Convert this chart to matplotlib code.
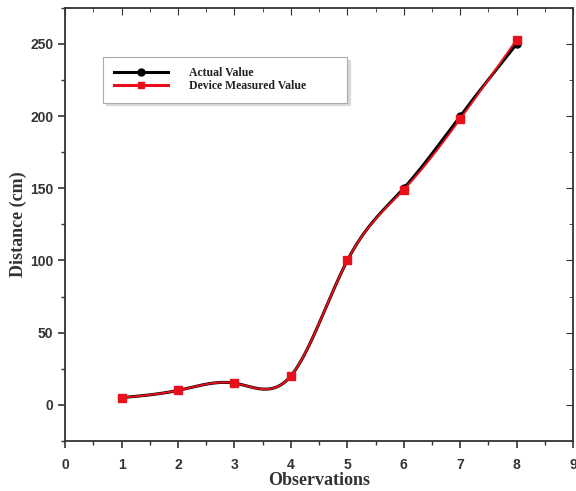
import numpy as np
import matplotlib
matplotlib.use("Agg")
import matplotlib.pyplot as plt
from matplotlib.ticker import MultipleLocator

observations = [1, 2, 3, 4, 5, 6, 7, 8]
actual_value = [5, 10, 15, 20, 100, 150, 200, 250]
measured_value = [5, 10, 15, 20, 100, 149, 198, 253]


def natural_spline(x, y, n=400):
    x = np.asarray(x, float)
    y = np.asarray(y, float)
    k = len(x)
    h = np.diff(x)
    A = np.zeros((k, k))
    b = np.zeros(k)
    A[0, 0] = 1
    A[-1, -1] = 1
    for i in range(1, k - 1):
        A[i, i - 1] = h[i - 1]
        A[i, i] = 2 * (h[i - 1] + h[i])
        A[i, i + 1] = h[i]
        b[i] = 3 * ((y[i + 1] - y[i]) / h[i] - (y[i] - y[i - 1]) / h[i - 1])
    c = np.linalg.solve(A, b)
    xs = np.linspace(x[0], x[-1], n)
    ys = np.empty_like(xs)
    for j, xv in enumerate(xs):
        i = min(np.searchsorted(x, xv, side="right") - 1, k - 2)
        dx = xv - x[i]
        bb = (y[i + 1] - y[i]) / h[i] - h[i] * (2 * c[i] + c[i + 1]) / 3
        d = (c[i + 1] - c[i]) / (3 * h[i])
        ys[j] = y[i] + bb * dx + c[i] * dx ** 2 + d * dx ** 3
    return xs, ys


fig = plt.figure(figsize=(5.76, 4.91), dpi=100)
ax = fig.add_axes([0.113, 0.102, 0.882, 0.882])

xa, ya = natural_spline(observations, actual_value)
xm, ym = natural_spline(observations, measured_value)

ax.plot(xa, ya, color="black", lw=2.2, zorder=2)
ax.plot(observations, actual_value, "o", color="black", ms=5, zorder=2)
ax.plot(xm, ym, color="#e8101a", lw=1.4, zorder=3)
ax.plot(observations, measured_value, "s", color="#e8101a", ms=6, zorder=4)

# legend proxies
ax.plot([], [], color="black", lw=2.2, marker="o", ms=5, label="Actual Value")
ax.plot([], [], color="#e8101a", lw=2.2, marker="s", ms=5, label="Device Measured Value")

ax.set_xlim(0, 9)
ax.set_ylim(-25, 275)
ax.xaxis.set_major_locator(MultipleLocator(1))
ax.xaxis.set_minor_locator(MultipleLocator(0.5))
ax.yaxis.set_major_locator(MultipleLocator(50))
ax.yaxis.set_minor_locator(MultipleLocator(25))

for s in ax.spines.values():
    s.set_linewidth(1.3)
    s.set_color("#333333")

ax.tick_params(which="both", direction="out", top=False, right=False, colors="#333333")
ax.tick_params(which="major", length=5, width=1.2)
ax.tick_params(which="minor", length=3, width=1.0)
ax.tick_params(axis="x", which="major", pad=7)
for lab in ax.get_xticklabels() + ax.get_yticklabels():
    lab.set_fontfamily("Liberation Sans")
    lab.set_fontweight("bold")
    lab.set_fontsize(10)
    lab.set_color("#333333")

sec_x = ax.secondary_xaxis("top")
sec_x.xaxis.set_major_locator(MultipleLocator(1))
sec_x.xaxis.set_minor_locator(MultipleLocator(0.5))
sec_x.tick_params(which="both", direction="in", labeltop=False, colors="#333333")
sec_x.tick_params(which="major", length=5)
sec_x.tick_params(which="minor", length=3)
sec_x.spines["top"].set_visible(False)
sec_y = ax.secondary_yaxis("right")
sec_y.yaxis.set_major_locator(MultipleLocator(50))
sec_y.yaxis.set_minor_locator(MultipleLocator(25))
sec_y.tick_params(which="both", direction="in", labelright=False, colors="#333333")
sec_y.tick_params(which="major", length=5)
sec_y.tick_params(which="minor", length=3)
sec_y.spines["right"].set_visible(False)

ax.set_xlabel("Observations", family="Liberation Serif", fontweight="bold",
              fontsize=13, labelpad=0, color="#333333")
ax.set_ylabel("Distance (cm)", family="Liberation Serif", fontweight="bold",
              fontsize=13, labelpad=2, color="#333333")

leg = ax.legend(loc="upper left", bbox_to_anchor=(0.075, 0.887, 0.48, 0.0),
                mode="expand",
                prop={"family": "Liberation Serif", "weight": "bold", "size": 8.5},
                handlelength=4.6, frameon=True, fancybox=False,
                shadow={"color": "0.85", "alpha": 1.0},
                borderpad=0.9, labelspacing=0.05, handletextpad=1.8,
                borderaxespad=0)
leg.get_frame().set_edgecolor("#aaaaaa")
leg.get_frame().set_linewidth(0.8)
for t in leg.get_texts():
    t.set_color("#222222")

fig.savefig("out.png", dpi=100)
